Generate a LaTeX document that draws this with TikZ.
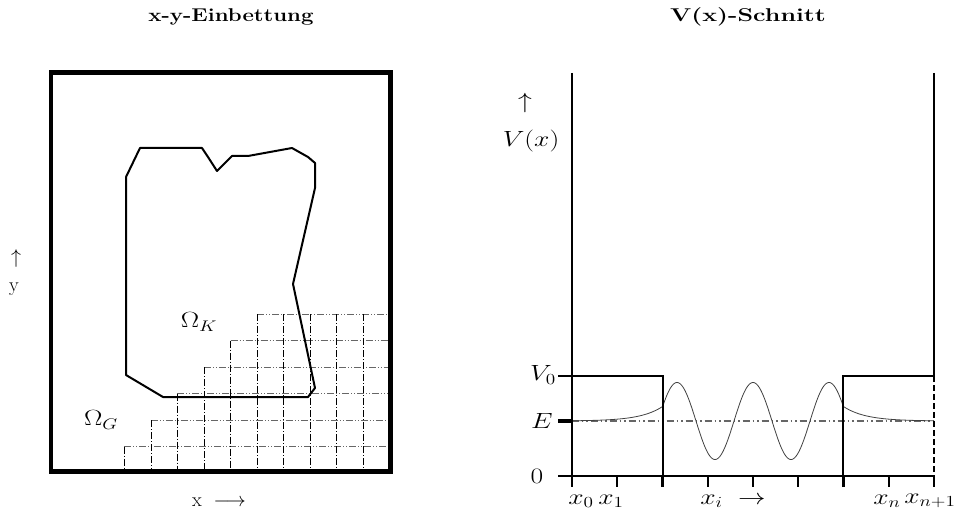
\documentclass[tikz,border=0pt]{standalone}
\usepackage{fix-cm}
\usepackage{graphicx}
\newcommand{\wide}[1]{\scalebox{1.25}[1]{#1}}
\tikzset{
  frame/.style={line width=4.8pt},
  blob/.style={line width=2pt, line join=round},
  gridh/.style={draw=black!60, line width=1.2pt, dash pattern=on 7pt off 2pt on 1pt off 2pt on 1pt off 2pt},
  gridv/.style={draw=black, line width=0.7pt, dash pattern=on 7pt off 2pt on 1pt off 2pt},
  wall/.style={line width=2pt},
  vline/.style={line width=2.4pt},
  lbl/.style={inner sep=0pt, font=\fontsize{22}{26}\selectfont},
  axl/.style={inner sep=0pt, font=\fontsize{20}{24}\selectfont},
  ttl/.style={inner sep=0pt, font=\fontsize{18.5}{22}\selectfont\bfseries},
  wave/.style={draw=black!75, line width=0.8pt},
  elev/.style={draw=black!60, line width=1.1pt, dash pattern=on 7pt off 3pt on 1.5pt off 3pt on 1.5pt off 3pt},
}
\begin{document}
\begin{tikzpicture}[x=1pt, y=-1pt]
\useasboundingbox (0,0) rectangle (957,513);
% ---------- left panel ----------
\node[ttl] (t1) at (231,17) {\scalebox{1.2}[1]{x-y-Einbettung}};
% grid (staircase)
\foreach \j in {0,...,5} {
  \draw[gridh] ({124.3+26.55*\j},{446.7-26.5*\j}) -- (390,{446.7-26.5*\j});
}
\foreach \k in {0,...,9} {
  \pgfmathsetmacro{\jj}{min(\k,5)}
  \draw[gridv] ({124.3+26.55*\k},{446.7-26.5*\jj}) -- ({124.3+26.55*\k},471.5);
}
% frame
\draw[frame] (51,72.5) rectangle (390.5,471.5);
% domain outline
\draw[blob] (140,148) -- (202,148) -- (208,157) -- (217,171) -- (232,156) -- (248,156)
  -- (292,148) -- (308,157) -- (315,163) -- (315,188) -- (293,284) -- (315,388)
  -- (308,397) -- (163,397) -- (126,375) -- (126,177) -- cycle;
\node[lbl] (ok) at (199,322) {\wide{$\Omega_K$}};
\node[lbl] (og) at (101,420) {\wide{$\Omega_G$}};
\node[axl] (ya) at (16,258) {$\uparrow$};
\node[axl] (yl) at (14,289) {y};
\node[axl] (xl) at (219,502) {x\; $\longrightarrow$};
% ---------- right panel ----------
\node[ttl] (t2) at (748,17) {\scalebox{1.35}[1]{V(x)-Schnitt}};
% E level
\draw[elev] (571.7,421) -- (934,421);
% wave function
\draw[wave] plot[domain=571.7:662.7, samples=60] (\x,{421-14.6*exp((\x-662.7)/22)});
\draw[wave] plot[domain=662.7:843.3, samples=200] (\x,{421-38.5*cos(4.7368*(\x-753))});
\draw[wave] plot[domain=843.3:934, samples=60] (\x,{421-14.6*exp((843.3-\x)/22)});
% outer walls
\draw[vline] (571.7,73) -- (571.7,487);
\draw[vline] (934,73) -- (934,376);
\draw[line width=1.2pt, dash pattern=on 6pt off 3pt] (934,376) -- (934,487);
% barriers
\draw[wall] (571.7,376) -- (662.7,376) -- (662.7,487);
\draw[wall] (843.3,487) -- (843.3,376) -- (934,376);
% axis and ticks
\draw[wall] (558,476) -- (934,476);
\draw[wall] (558,376) -- (571.7,376);
\draw[line width=3.2pt] (558,421) -- (571.7,421);
\foreach \k in {0,...,8} {
  \draw[wall] ({571.7+45.33*\k},476) -- ({571.7+45.33*\k},487);
}
% labels
\node[lbl] (va) at (525,103) {\wide{$\uparrow$}};
\node[lbl] (vx) at (531,141) {\wide{$V(x)$}};
\node[lbl] (v0) at (543,375) {\wide{$V_0$}};
\node[lbl] (el) at (542,421) {\wide{$E$}};
\node[lbl] (zl) at (537,476) {\wide{$0$}};
\node[lbl] (x0) at (581,501) {\wide{$x_0$}};
\node[lbl] (x1) at (611,501) {\wide{$x_1$}};
\node[lbl] (xi) at (733,501) {\wide{$x_i\;\rightarrow$}};
\node[lbl] (xn) at (887,501) {\wide{$x_n$}};
\node[lbl] (xn1) at (930,501) {\wide{$x_{n+1}$}};
\end{tikzpicture}
\end{document}
